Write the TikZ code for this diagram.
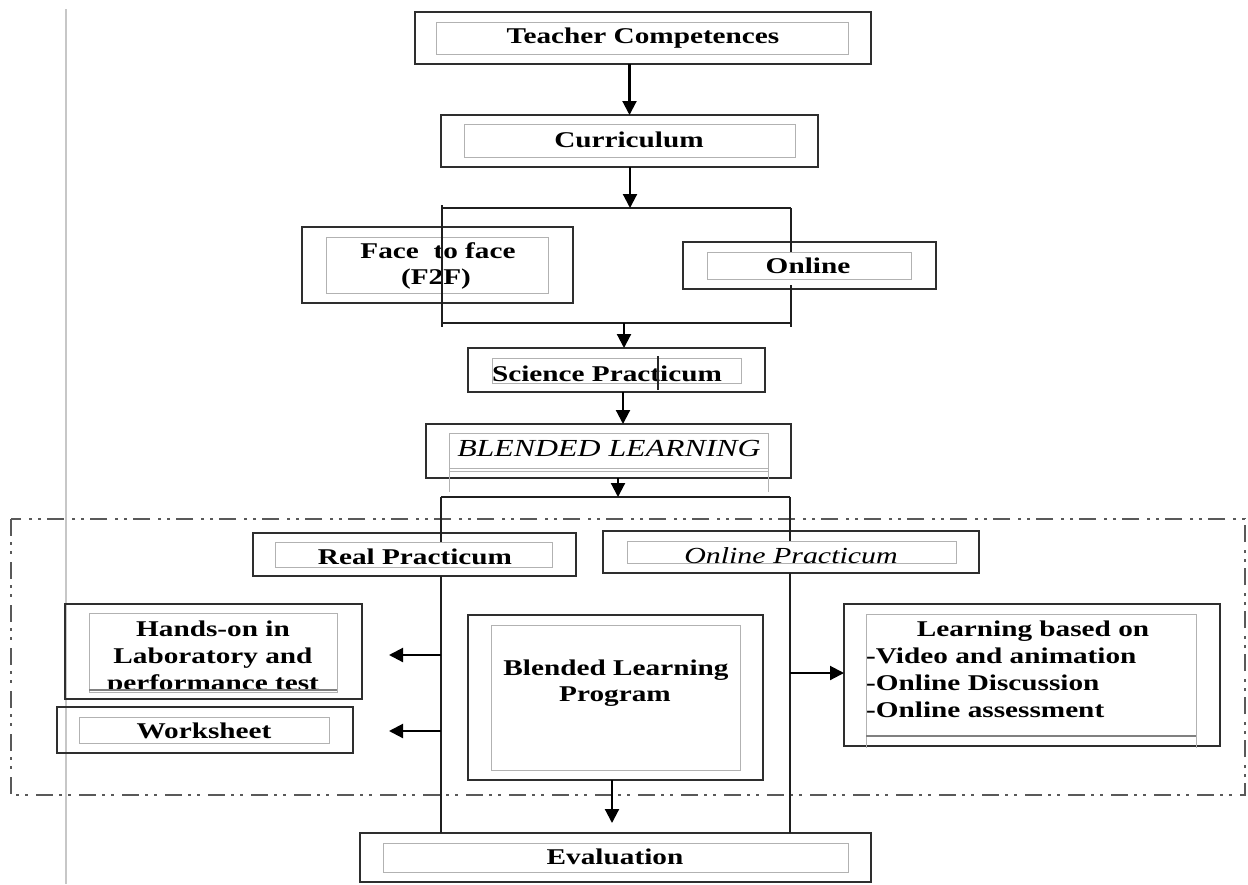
\documentclass[tikz,border=0pt]{standalone}
\usepackage{fontspec}
\setmainfont{Liberation Serif}[FakeStretch=1.3]
\usetikzlibrary{arrows.meta,fit}
\newcommand\fsz{\fontsize{22.5}{27}\selectfont}
\newcommand\fbig{\fontsize{24.5}{29}\selectfont}
\newcommand\fmid{\fontsize{23}{27}\selectfont}
\begin{document}
\begin{tikzpicture}[x=1pt,y=-1pt,
  outer/.style={draw=black!82, line width=2.8pt, inner sep=0pt, outer sep=0pt},
  inner/.style={draw=black!30, line width=1pt, inner sep=0pt, outer sep=0pt},
  ln/.style={draw=black!88, line width=2.5pt},
  thinln/.style={draw=black!30, line width=1pt},
  arr/.style={draw=black, line width=2.1pt, -{Triangle[length=14pt,width=14pt]}},
  txt/.style={font=\fsz\bfseries, inner sep=0pt, anchor=base},
  ltxt/.style={font=\fsz\bfseries, inner sep=0pt, anchor=base west},
  dashbox/.style={draw=black!65, line width=2.8pt,
    dash pattern=on 17pt off 6pt on 3pt off 6pt on 3pt off 8pt}]
\useasboundingbox (0,0) rectangle (1248,884);
\fill[white] (0,0) rectangle (1248,884);

% page margin line
\draw[draw=black!22, line width=1.2pt] (66,9) -- (66,884);

% dash-dot frame
\draw[dashbox] (11,519) rectangle (1245,795);

% ---- boxes ----
\node[outer, fit={(415,12)(871,64)}] (tc) {};
\node[inner, fit={(436,22)(848,54)}] (tci) {};
\node[txt] (tct) at (643,43) {Teacher Competences};

\node[outer, fit={(441,115)(818,167)}] (cur) {};
\node[inner, fit={(464,124)(795,157)}] (curi) {};
\node[txt] (curt) at (629,147) {Curriculum};

\node[outer, fit={(302,227)(573,303)}] (f2f) {};
\node[inner, fit={(326,237)(548,293)}] (f2fi) {};
\node[txt] (f2ft1) at (438,258) {Face~ to face};
\node[txt] (f2ft2) at (436,284) {(F2F)};

\node[outer, fit={(683,242)(936,289)}] (onl) {};
\node[inner, fit={(707,252)(911,279)}] (onli) {};
\node[txt] (onlt) at (808,273) {Online};

\node[outer, fit={(468,348)(765,392)}] (sci) {};
\node[inner, fit={(492,358)(741,383)}] (scii) {};
\node[txt] (scit) at (607,381) {Science Practicum};
\draw[draw=black!85, line width=1.6pt] (658,356) -- (658,390);

\node[outer, fit={(426,424)(791,478)}] (bl) {};
\node[inner, fit={(449,433)(768,468)}] (bli) {};
\draw[thinln] (449,471) -- (768,471) (449,468) -- (449,492) (768,468) -- (768,492);
\node[font=\fbig\itshape, inner sep=0pt, anchor=base] (blt) at (609,456) {BLENDED LEARNING};

\node[outer, fit={(253,533)(576,576)}] (rp) {};
\node[inner, fit={(275,542)(552,567)}] (rpi) {};
\node[txt] (rpt) at (415,564) {Real Practicum};

\node[outer, fit={(603,531)(979,573)}] (op) {};
\node[inner, fit={(627,541)(956,563)}] (opi) {};
\node[font=\fmid\itshape, inner sep=0pt, anchor=base] (opt) at (791,563) {Online Practicum};

\node[outer, fit={(65,604)(362,699)}] (ho) {};
\node[inner, fit={(89,613)(337,692)}] (hoi) {};
\begin{scope}
\clip (80,600) rectangle (345,690);
\node[txt] (hot1) at (213,636) {Hands-on in};
\node[txt] (hot2) at (213,663) {Laboratory and};
\node[txt] (hot3) at (213,690) {performance test};
\end{scope}
\draw[draw=black!50, line width=1.2pt] (89,690) -- (337,690);

\node[outer, fit={(57,707)(353,753)}] (ws) {};
\node[inner, fit={(79,717)(329,743)}] (wsi) {};
\node[txt] (wst) at (204,738) {Worksheet};

\node[outer, fit={(468,615)(763,780)}] (blp) {};
\node[inner, fit={(491,625)(740,770)}] (blpi) {};
\node[txt] (blpt1) at (616,675) {Blended Learning};
\node[txt] (blpt2) at (615,701) {Program};

\node[outer, fit={(844,604)(1220,746)}] (lb) {};
\node[inner, fit={(866,614)(1196,736)}] (lbi) {};
\draw[thinln] (866,736) -- (866,748) (1196,736) -- (1196,748);
\draw[draw=black!50, line width=1.2pt] (866,736) -- (1196,736);
\node[txt] (lbt) at (1033,636) {Learning based on};
\node[ltxt] (lb1) at (866,663) {-Video and animation};
\node[ltxt] (lb2) at (866,690) {-Online Discussion};
\node[ltxt] (lb3) at (866,717) {-Online assessment};

\node[outer, fit={(360,833)(871,882)}] (ev) {};
\node[inner, fit={(383,843)(848,872)}] (evi) {};
\node[txt] (evt) at (615,864) {Evaluation};

% ---- brackets ----
\coordinate (b1t) at (630,208);
\coordinate (b1b) at (624,323);
\draw[ln] (442,208) -- (791,208);
\draw[ln] (442,323) -- (791,323);
\draw[ln] (442,205) -- (442,327);
\draw[ln] (791,208) -- (791,252) (791,285) -- (791,327);

\coordinate (b2t) at (618,497);
\coordinate (b2l) at (441,497);
\coordinate (b2r) at (790,497);
\draw[ln] (b2l) -- (b2r);
\draw[ln] (b2l) -- (441,542) (441,576) -- (ev.north -| b2l);
\draw[ln] (b2r) -- (790,541) (790,573) -- (ev.north -| b2r);

\coordinate (hoa) at (441,655);
\coordinate (wsa) at (441,731);
\coordinate (lba) at (790,673);

% ---- arrows ----
\draw[arr] (tc.south -| cur.north) -- (cur.north);
\draw[arr] (cur.south -| b1t) -- (b1t);
\draw[arr] (b1b) -- ++(0,5) -- (sci.north -| b1b);
\draw[arr] (sci.south -| 623,0) -- (bl.north -| 623,0);
\draw[arr] (bl.south -| b2t) -- (b2t);
\draw[arr] (hoa) -- (389,655);
\draw[arr] (wsa) -- (389,731);
\draw[arr] (lba) -- (lb.west |- lba);
\draw[arr] (blp.south -| 612,0) -- (612,823);
\end{tikzpicture}
\end{document}
